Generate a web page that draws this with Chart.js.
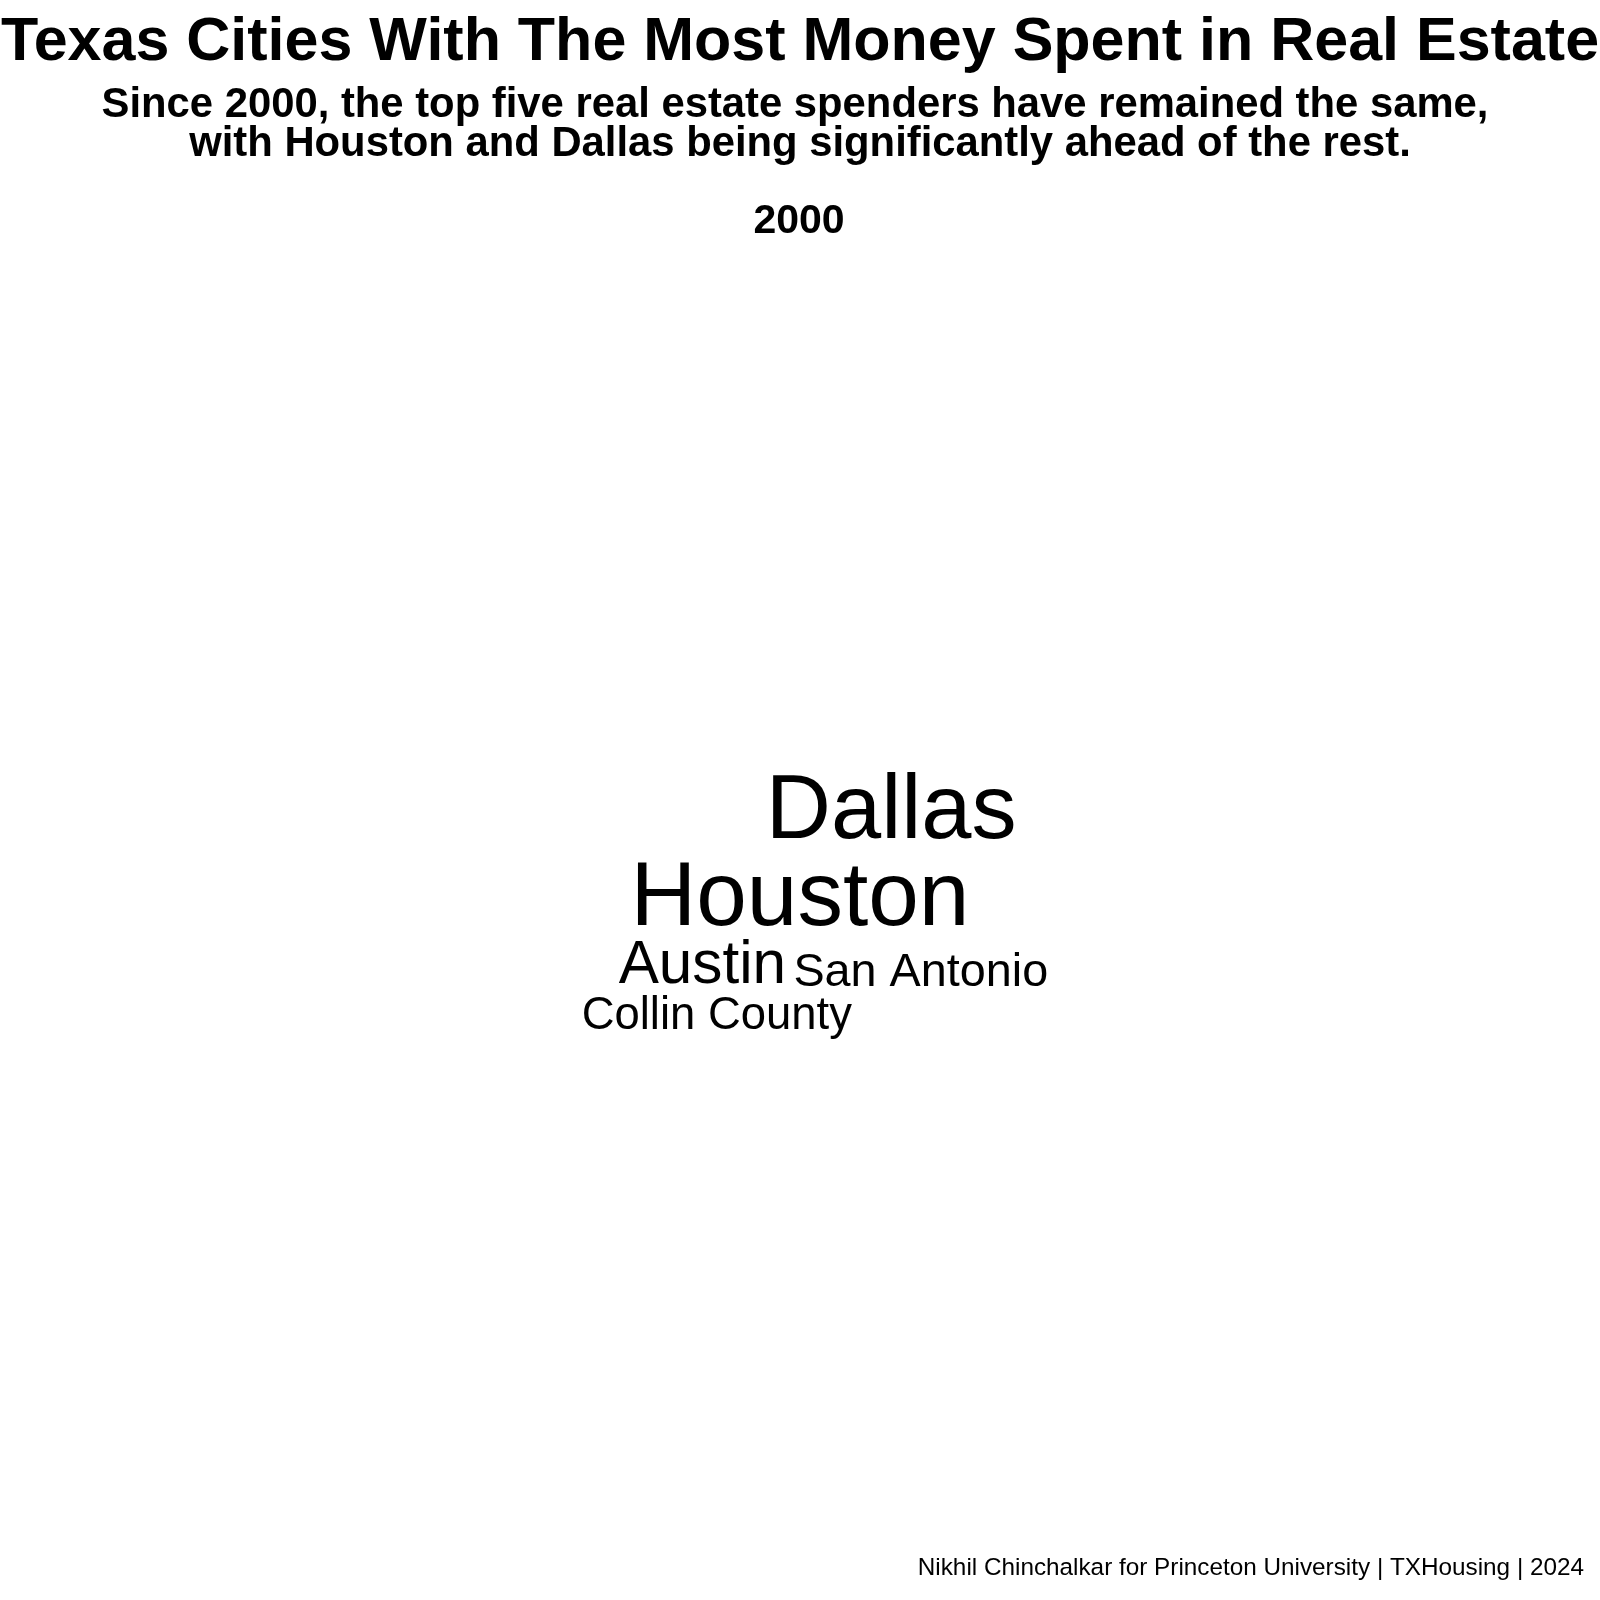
<!DOCTYPE html>
<html>
<head>
<meta charset="utf-8">
<style>
  html, body { margin: 0; padding: 0; background: #ffffff; }
  #wrap { width: 1600px; height: 1600px; }
</style>
<script src="https://cdn.jsdelivr.net/npm/chart.js@4/dist/chart.umd.min.js"></script>
</head>
<body>
<div id="wrap"><canvas id="c" width="1600" height="1600"></canvas></div>
<script>
// ---- data (values are estimates) ----
const cities = ['Houston', 'Dallas', 'Austin', 'San Antonio', 'Collin County'];
const volumes = [8.9, 8.75, 3.9, 2.35, 2.22];          // real estate volume, $ billions (estimated)
const cloudX = [0.000, 0.114, -0.122, 0.151, -0.104]; // word-cloud layout coordinates
const cloudY = [0.000, 0.134, -0.107, -0.118, -0.186];
const facetLabel = '2000';
const titleText = 'Texas Cities With The Most Money Spent in Real Estate';
const subtitleLines = [
  'Since 2000, the top five real estate spenders have remained the same,',
  'with Houston and Dallas being significantly ahead of the rest.'
];
const captionText = 'Nikhil Chinchalkar for Princeton University | TXHousing | 2024';

const FONT = '"Liberation Sans", Arial, Helvetica, sans-serif';
const MAX_FONT = 91;
const maxVol = Math.max(...volumes);

const points = cities.map((c, i) => ({ x: cloudX[i], y: cloudY[i], label: c, v: volumes[i] }));

const textPlugin = {
  id: 'wordcloudText',
  afterDatasetsDraw(chart) {
    const ctx = chart.ctx;
    const meta = chart.getDatasetMeta(0);
    ctx.save();
    ctx.fillStyle = '#000000';
    ctx.textAlign = 'center';
    ctx.textBaseline = 'alphabetic';
    meta.data.forEach((el, i) => {
      const d = chart.data.datasets[0].data[i];
      const size = MAX_FONT * Math.sqrt(d.v / maxVol);
      ctx.font = 'normal ' + size.toFixed(2) + 'px ' + FONT;
      ctx.fillText(d.label, el.x, el.y + 0.716 * size / 2);
    });
    ctx.restore();
  },
  afterDraw(chart) {
    const ctx = chart.ctx;
    const W = chart.width;
    ctx.save();
    ctx.fillStyle = '#000000';
    ctx.textBaseline = 'alphabetic';
    ctx.textAlign = 'center';
    ctx.font = 'bold 61px ' + FONT;
    ctx.fillText(titleText, W / 2, 60);
    ctx.font = 'bold 41.8px ' + FONT;
    ctx.fillText(subtitleLines[0], W / 2 - 5, 117);
    ctx.fillText(subtitleLines[1], W / 2, 156);
    ctx.font = 'bold 41px ' + FONT;
    ctx.fillText(facetLabel, W / 2 - 1, 233);
    ctx.textAlign = 'right';
    ctx.font = 'normal 24.3px ' + FONT;
    ctx.fillText(captionText, 1584, 1575);
    ctx.restore();
  }
};

new Chart(document.getElementById('c'), {
  type: 'scatter',
  data: {
    datasets: [{
      data: points,
      pointRadius: 0,
      pointHoverRadius: 0,
      showLine: false
    }]
  },
  options: {
    responsive: false,
    animation: false,
    devicePixelRatio: 1,
    layout: { padding: { top: 245, bottom: 60, left: 0, right: 0 } },
    plugins: {
      legend: { display: false },
      tooltip: { enabled: false },
      title: { display: false }
    },
    scales: {
      x: { type: 'linear', min: -1, max: 1, display: false },
      y: { type: 'linear', min: -1, max: 1, display: false }
    }
  },
  plugins: [textPlugin]
});
</script>
</body>
</html>
